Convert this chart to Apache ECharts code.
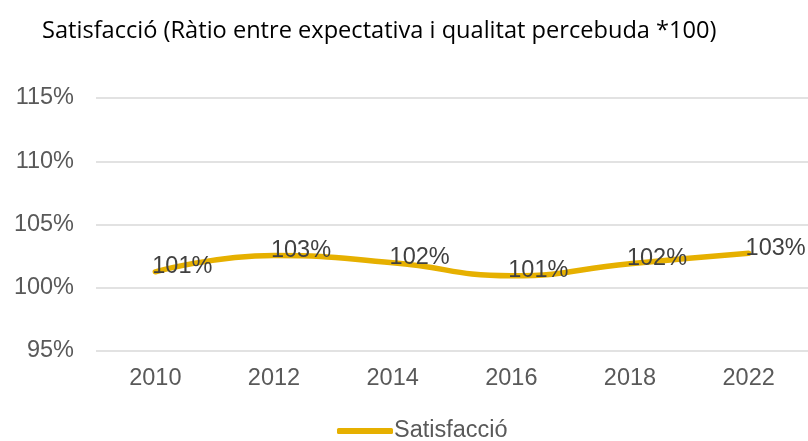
<!DOCTYPE html>
<html>
<head>
<meta charset="utf-8">
<script src="https://cdn.jsdelivr.net/npm/echarts@6/dist/echarts.min.js"></script>
<style>
  html, body { margin: 0; padding: 0; background: #fff; }
  #chart { width: 808px; height: 441px; }
</style>
</head>
<body>
<div id="chart"></div>
<script>
// data
const years = ['2010', '2012', '2014', '2016', '2018', '2022']
const satisfaccio = [101.26, 102.55, 101.98, 100.95, 101.9, 102.72]
const yTicks = { min: 95, max: 115, step: 5 }

const gold = '#E6B000'
const grey = '#595959'
const labelFont = '"Liberation Sans", Arial, sans-serif'

const chart = echarts.init(document.getElementById('chart'), null, { renderer: 'canvas' })

chart.setOption({
  animation: false,
  title: {
    text: 'Satisfacció (Ràtio entre expectativa i qualitat percebuda *100)',
    left: 37, top: 14,
    textStyle: { fontFamily: '"Open Sans", sans-serif', fontSize: 23.6, fontWeight: 'normal', color: '#000' }
  },
  grid: { left: 96, top: 98, width: 720, bottom: 90 },
  xAxis: {
    type: 'category',
    data: years,
    boundaryGap: true,
    axisLine: { show: false },
    axisTick: { show: false },
    axisLabel: { color: grey, fontSize: 23.5, fontFamily: labelFont, margin: 16 }
  },
  yAxis: {
    type: 'value',
    min: yTicks.min, max: yTicks.max, interval: yTicks.step,
    axisLine: { show: false },
    axisTick: { show: false },
    splitLine: { lineStyle: { color: '#d9d9d9', width: 1.5 } },
    axisLabel: { color: grey, fontSize: 23.5, fontFamily: labelFont, margin: 22, formatter: '{value}%' }
  },
  legend: {
    left: 337, top: 419,
    padding: 0,
    icon: 'roundRect',
    itemWidth: 56, itemHeight: 6,
    textStyle: { color: grey, fontSize: 23.5, fontFamily: labelFont, padding: [0, 0, 0, -4] },
    data: ['Satisfacció']
  },
  series: [{
    name: 'Satisfacció',
    type: 'line',
    data: satisfaccio,
    smooth: 0.5,
    symbol: 'circle',
    symbolSize: 1,
    showSymbol: true,
    lineStyle: { color: gold, width: 5.5, cap: 'round' },
    itemStyle: { color: gold },
    label: {
      show: true,
      position: 'inside',
      offset: [27, -5],
      color: '#404040',
      fontSize: 23.5,
      fontFamily: labelFont,
      formatter: (p) => Math.round(p.value) + '%'
    }
  }]
})
</script>
</body>
</html>
